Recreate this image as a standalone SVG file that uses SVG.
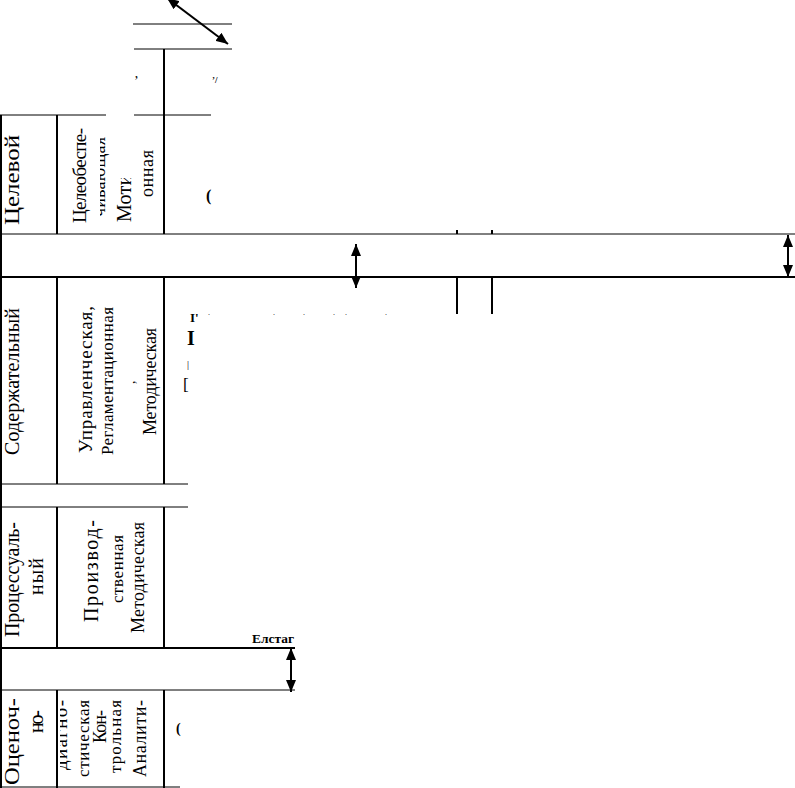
<svg xmlns="http://www.w3.org/2000/svg" width="795" height="788" viewBox="0 0 795 788">
<style>
.t{font-family:"Liberation Serif","Times New Roman",serif;fill:#000;}
.h{stroke:#000;stroke-width:1;fill:none;}
.hb{stroke:#000;stroke-width:2;fill:none;}
.v{stroke:#000;stroke-width:2;fill:none;}
.ar{stroke:#000;stroke-width:2;fill:none;marker-start:url(#ah);marker-end:url(#ah);}
</style>
<defs>
<marker id="ah" markerUnits="userSpaceOnUse" markerWidth="12" markerHeight="11" viewBox="0 0 12 10" refX="12" refY="5" orient="auto-start-reverse">
<path d="M0,0 L12,5 L0,10 z" fill="#000"/>
</marker>
<clipPath id="cChiv"><rect x="100" y="115" width="12" height="119"/></clipPath>
<clipPath id="cMot"><rect x="110" y="178" width="30" height="56"/></clipPath>
<clipPath id="cDiag"><rect x="60" y="690" width="20" height="98"/></clipPath>
<clipPath id="cVn"><rect x="240" y="633" width="70" height="14"/></clipPath>
</defs>

<g id="grid">
<line class="h" x1="133" y1="24" x2="232" y2="24"/>
<line class="h" x1="134" y1="49" x2="232" y2="49"/>
<line class="h" x1="0" y1="115" x2="106" y2="115"/>
<line class="h" x1="134" y1="115" x2="211" y2="115"/>
<line class="h" x1="0" y1="234" x2="795" y2="234"/>
<line class="hb" x1="0" y1="277" x2="795" y2="277"/>
<line class="h" x1="0" y1="484" x2="188" y2="484"/>
<line class="h" x1="0" y1="507" x2="188" y2="507"/>
<line class="hb" x1="0" y1="648" x2="295" y2="648"/>
<line class="h" x1="0" y1="690" x2="295" y2="690"/>
<line class="h" x1="0" y1="787" x2="180" y2="787"/>
<line class="v" x1="1" y1="115" x2="1" y2="788"/>
<line class="v" x1="57" y1="115" x2="57" y2="234"/>
<line class="v" x1="57" y1="277" x2="57" y2="484"/>
<line class="v" x1="57" y1="507" x2="57" y2="648"/>
<line class="v" x1="57" y1="690" x2="57" y2="788"/>
<line class="v" x1="164" y1="49" x2="164" y2="234"/>
<line class="v" x1="164" y1="277" x2="164" y2="484"/>
<line class="v" x1="164" y1="507" x2="164" y2="648"/>
<line class="v" x1="164" y1="690" x2="164" y2="788"/>
<line class="v" x1="457" y1="230" x2="457" y2="234"/>
<line class="v" x1="492" y1="230" x2="492" y2="234"/>
<line class="v" x1="457" y1="277" x2="457" y2="314"/>
<line class="v" x1="492" y1="277" x2="492" y2="314"/>
</g>

<g id="connectors">
<line class="ar" x1="167" y1="-2" x2="228" y2="44"/>
<line class="ar" x1="356" y1="244" x2="356" y2="288"/>
<line class="ar" x1="788" y1="235" x2="788" y2="277"/>
<line class="ar" x1="291" y1="648" x2="291" y2="692"/>
</g>

<g id="node-celevoy">
<text class="t" font-size="20" textLength="90" lengthAdjust="spacingAndGlyphs" transform="translate(19,225) rotate(-90)">Целевой</text>
<text class="t" font-size="19" textLength="95" transform="translate(86,223) rotate(-90)">Целеобеспе-</text>
<g clip-path="url(#cChiv)"><text class="t" font-size="18" textLength="80" transform="translate(105,217) rotate(-90)">чивающая</text></g>
<g clip-path="url(#cMot)"><text class="t" font-size="20" textLength="95" transform="translate(131,222) rotate(-90)">Мотиваци-</text></g>
<text class="t" font-size="18" textLength="47" transform="translate(153,197) rotate(-90)">онная</text>
</g>

<g id="node-soderzh">
<text class="t" font-size="20" textLength="147" transform="translate(19,455) rotate(-90)">Содержательный</text>
<text class="t" font-size="19" textLength="147" transform="translate(92,453) rotate(-90)">Управленческая,</text>
<text class="t" font-size="17" textLength="148" transform="translate(113,455) rotate(-90)">Регламентационная</text>
<text class="t" font-size="14" transform="translate(135,384) rotate(-90)">,</text>
<text class="t" font-size="18" textLength="107" transform="translate(156,435) rotate(-90)">Методическая</text>
</g>

<g id="node-process">
<text class="t" font-size="20" textLength="115" transform="translate(19,637) rotate(-90)">Процессуаль-</text>
<text class="t" font-size="20" textLength="37" transform="translate(43,595) rotate(-90)">ный</text>
<text class="t" font-size="20" textLength="102" transform="translate(98,622) rotate(-90)">Производ-</text>
<text class="t" font-size="17" textLength="68" transform="translate(123,603) rotate(-90)">ственная</text>
<text class="t" font-size="18" textLength="111" transform="translate(144,633) rotate(-90)">Методическая</text>
</g>

<g id="node-ocen">
<text class="t" font-size="20" textLength="87" lengthAdjust="spacingAndGlyphs" transform="translate(19,785) rotate(-90)">Оценоч-</text>
<text class="t" font-size="20" textLength="23" transform="translate(43,733) rotate(-90)">но-</text>
<g clip-path="url(#cDiag)"><text class="t" font-size="19" textLength="70" transform="translate(67,770) rotate(-90)">диагно-</text></g>
<text class="t" font-size="17" textLength="77" transform="translate(89,777) rotate(-90)">стическая</text>
<text class="t" font-size="18" textLength="33" transform="translate(106,743) rotate(-90)">Кон-</text>
<text class="t" font-size="17" textLength="73" transform="translate(121,773) rotate(-90)">трольная</text>
<text class="t" font-size="18" textLength="77" transform="translate(146,777) rotate(-90)">Аналити-</text>
</g>

<g id="fragments">
<text class="t" font-size="14" x="134" y="86">’</text>
<text class="t" font-size="9" font-weight="bold" x="212" y="83">ʼ/</text>
<text class="t" font-size="16" font-weight="bold" x="206" y="201">(</text>
<text class="t" font-size="13" font-weight="bold" x="190" y="322">I'</text>
<text class="t" font-size="8" x="208 273 303 333 345 385" y="315">......</text>
<text class="t" font-size="20" font-weight="bold" x="187" y="345">I</text>
<text class="t" font-size="10" x="187" y="368">|</text>
<text class="t" font-size="17" x="183" y="390">[</text>
<text class="t" font-size="14" font-weight="bold" x="176" y="733">(</text>
<g clip-path="url(#cVn)"><text class="t" font-size="13" font-weight="bold" textLength="42" lengthAdjust="spacingAndGlyphs" x="252" y="643">Елстаг</text></g>
</g>
</svg>
